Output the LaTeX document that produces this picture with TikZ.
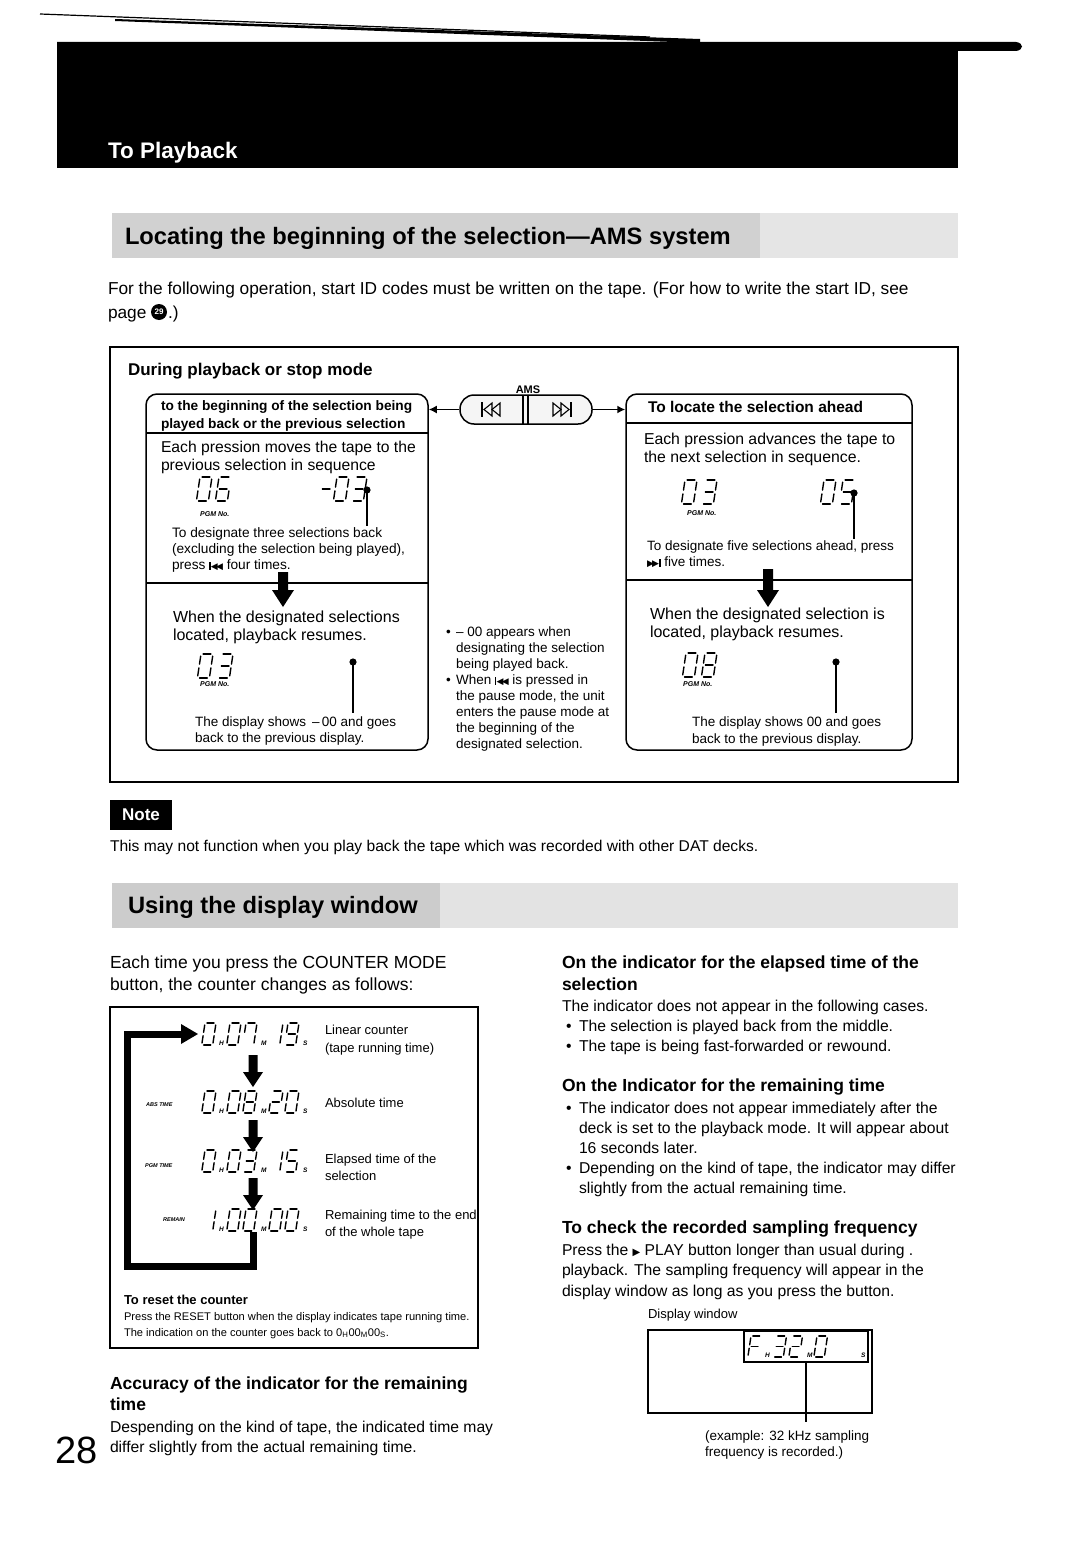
\documentclass[tikz,border=0pt]{standalone}
\usepackage{fontspec}
\setmainfont{Liberation Sans}
\newfontfamily\dejavu{DejaVu Sans}
\usetikzlibrary{arrows.meta}
\newcommand\fs[1]{\fontsize{#1}{#1}\selectfont}
\tikzset{
  txt/.style={anchor=base west, inner sep=0pt, outer sep=0pt},
  seg/.style={line width=1.4pt, line cap=round},
  unit/.style={anchor=base west, inner sep=0pt, font=\fs{6.5}\bfseries\itshape},
  pgm/.style={anchor=base west, inner sep=0pt, font=\fs{7}\bfseries\itshape},
  ptr/.style={line width=1.4pt},
  boxline/.style={line width=1.5pt},
  conn/.style={line width=1.5pt, -{Latex[length=8pt,width=8pt]}},
}
\newcommand\sgA{\draw[seg] (1.8,0)--(8.2,0);}
\newcommand\sgB{\draw[seg] (10,1.8)--(10,8.4);}
\newcommand\sgC{\draw[seg] (10,11.6)--(10,18.2);}
\newcommand\sgD{\draw[seg] (1.8,20)--(8.2,20);}
\newcommand\sgE{\draw[seg] (0,11.6)--(0,18.2);}
\newcommand\sgF{\draw[seg] (0,1.8)--(0,8.4);}
\newcommand\sgG{\draw[seg] (1.8,10)--(8.2,10);}
\newcommand\ssd[4]{\begin{scope}[shift={(#1,#2)},scale=#3,xslant=0.15]
\ifcase#4\relax \sgA\sgB\sgC\sgD\sgE\sgF
\or \sgB\sgC
\or \sgA\sgB\sgG\sgE\sgD
\or \sgA\sgB\sgG\sgC\sgD
\or \sgF\sgG\sgB\sgC
\or \sgA\sgF\sgG\sgC\sgD
\or \sgA\sgF\sgG\sgE\sgC\sgD
\or \sgA\sgB\sgC\sgF
\or \sgA\sgB\sgC\sgD\sgE\sgF\sgG
\or \sgA\sgB\sgC\sgD\sgF\sgG
\or \sgA\sgF\sgG\sgE
\or \sgG
\fi
\end{scope}}
% time display: name, x, ytop, h, m1, m2, s1, s2
\newcommand\timedisp[8]{%
  \ssd{#2}{#3}{1.1}{#4}
  \node[unit] (#1h) at ([shift={(14,22)}]#2,#3) {H};
  \ssd{#2+25}{#3}{1.1}{#5}\ssd{#2+41}{#3}{1.1}{#6}
  \node[unit] (#1m) at ([shift={(56,22)}]#2,#3) {M};
  \ssd{#2+67}{#3}{1.1}{#7}\ssd{#2+83}{#3}{1.1}{#8}
  \node[unit] (#1s) at ([shift={(98,22)}]#2,#3) {S};
}
\newcommand\dnarrow[6]{\fill (#1-#5,#2) -- (#1+#5,#2) -- (#1+#5,#3) -- (#1+#6,#3) -- (#1,#4) -- (#1-#6,#3) -- (#1-#5,#3) -- cycle;}
\newcommand\prevsym{\rule[-0.5pt]{1.4pt}{8pt}\kern0.2pt{\dejavu\fontsize{9}{9}\selectfont ◀\kern-1.8pt◀}}
\newcommand\nextsym{{\dejavu\fontsize{9}{9}\selectfont ▶\kern-1.8pt▶}\kern0.2pt\rule[-0.5pt]{1.4pt}{8pt}}
\newcommand\playsym{{\dejavu\fontsize{10}{10}\selectfont ▶}}

\begin{document}
\begin{tikzpicture}[x=1pt,y=-1pt]
\useasboundingbox (0,0) rectangle (1083,1560);
\fill[white] (0,0) rectangle (1083,1560);

% ---------- header ----------
\draw[line width=1.2pt] (40,14) -- (650,37);
\fill (115,19) -- (700,39) -- (700,43) -- (115,21) -- cycle;
\fill (57,42) -- (1016,42) .. controls (1024,43) and (1024,50) .. (1016,51) -- (57,51) -- cycle;
\fill (57,45) rectangle (958,168);
\node[txt, text=white, font=\fs{22.5}\bfseries] (title) at (108,158) {To Playback};

% ---------- banner 1 ----------
\fill[gray!36] (112,213) rectangle (760,258);
\fill[gray!20] (760,213) rectangle (958,258);
\node[txt, font=\fs{23.7}\bfseries] (ban1) at (125,244) {Locating the beginning of the selection---AMS system};

\node[txt, font=\fs{17.3}] (p1) at (108,294) {For the following operation, start ID codes must be written on the tape. (For how to write the start ID, see};
\node[txt, font=\fs{17.3}] (p2) at (108,318) {page};
\node[circle, fill=black, text=white, inner sep=0pt, minimum size=16pt, font=\fs{8}\bfseries] (c29) at (159,312) {29};
\node[txt, font=\fs{17.3}] (p3) at (168,318) {.)};

% ---------- AMS frame ----------
\node[draw, boxline, minimum width=848pt, minimum height=435pt, inner sep=0pt] (outer) at (534,564.5) {};
\node[txt, font=\fs{17}\bfseries] (during) at (128,375) {During playback or stop mode};
\node[anchor=base, inner sep=0pt, font=\fs{11}\bfseries] (amslbl) at (528,393) {AMS};

\node[draw, boxline, rounded corners=14pt, fill=gray!8, minimum width=132pt, minimum height=29pt, inner sep=0pt] (ams) at (526,409.5) {};
\draw[line width=1.3pt] (523,395) -- (523,424);
\draw[line width=1.3pt] (528,395) -- (528,424);
% prev / next symbols on the buttons
\draw[line width=1.2pt] (482,402) -- (482,417);
\draw[line width=1.1pt] (484,409.5) -- (492,403) -- (492,416) -- cycle;
\draw[line width=1.1pt] (492,409.5) -- (500,403) -- (500,416) -- cycle;
\draw[line width=1.1pt] (553,403) -- (561,409.5) -- (553,416) -- cycle;
\draw[line width=1.1pt] (561,403) -- (569,409.5) -- (561,416) -- cycle;
\draw[line width=1.2pt] (571,402) -- (571,417);

% left box
\node[draw, boxline, rounded corners=11pt, minimum width=282pt, minimum height=356pt, inner sep=0pt] (lbox) at (287,572) {};
\draw[line width=1.3pt] (146,433) -- (428,433);
\draw[line width=1.3pt] (146,583) -- (428,583);
\draw[conn] (ams.west) -- (ams.west -| lbox.east);

\node[txt, font=\fs{13.7}\bfseries] (lh1) at (161,410) {to the beginning of the selection being};
\node[txt, font=\fs{13.7}\bfseries] (lh2) at (161,428) {played back or the previous selection};
\node[txt, font=\fs{15.7}] (lb1) at (161,452) {Each pression moves the tape to the};
\node[txt, font=\fs{15.7}] (lb2) at (161,470) {previous selection in sequence};
\ssd{200}{477}{1.2}{0}\ssd{219}{477}{1.2}{6}
\node[pgm] (lpgm1) at (200,516) {PGM No.};
\ssd{322}{477}{1.2}{11}\ssd{337}{477}{1.2}{0}\ssd{355}{477}{1.2}{3}
\fill (367,490) circle (3.6pt);
\draw[ptr] (367,490) -- (367,526);
\node[txt, font=\fs{13.7}] (ls1) at (172,537) {To designate three selections back};
\node[txt, font=\fs{13.7}] (ls2) at (172,553) {(excluding the selection being played),};
\node[txt, font=\fs{13.7}] (ls3) at (172,569) {press \prevsym\ four times.};
\dnarrow{283}{572}{590}{607}{5}{11}
\node[txt, font=\fs{16}] (ll1) at (173,622) {When the designated selections};
\node[txt, font=\fs{16}] (ll2) at (173,640) {located, playback resumes.};
\ssd{201}{654}{1.2}{0}\ssd{221}{654}{1.2}{3}
\node[pgm] (lpgm2) at (200,686) {PGM No.};
\fill (353,662) circle (3.6pt);
\draw[ptr] (353,662) -- (353,713);
\node[txt, font=\fs{13.5}] (ld1) at (195,726) {The display shows \,--\,00 and goes};
\node[txt, font=\fs{13.5}] (ld2) at (195,742) {back to the previous display.};

% middle notes
\node[txt, font=\fs{13.5}] (mb1) at (446,636) {•};
\node[txt, font=\fs{13.5}] (m1) at (456,636) {-- 00 appears when};
\node[txt, font=\fs{13.5}] (m2) at (456,652) {designating the selection};
\node[txt, font=\fs{13.5}] (m3) at (456,668) {being played back.};
\node[txt, font=\fs{13.5}] (mb2) at (446,684) {•};
\node[txt, font=\fs{13.5}] (m4) at (456,684) {When \prevsym\ is pressed in};
\node[txt, font=\fs{13.5}] (m5) at (456,700) {the pause mode, the unit};
\node[txt, font=\fs{13.5}] (m6) at (456,716) {enters the pause mode at};
\node[txt, font=\fs{13.5}] (m7) at (456,732) {the beginning of the};
\node[txt, font=\fs{13.5}] (m8) at (456,748) {designated selection.};

% right box
\node[draw, boxline, rounded corners=11pt, minimum width=286pt, minimum height=356pt, inner sep=0pt] (rbox) at (769,572) {};
\draw[line width=1.3pt] (626,423) -- (912,423);
\draw[line width=1.3pt] (626,580) -- (912,580);
\draw[conn] (ams.east) -- (ams.east -| rbox.west);
\node[txt, font=\fs{15.5}\bfseries] (rh) at (648,412) {To locate the selection ahead};
\node[txt, font=\fs{15.8}] (rb1) at (644,444) {Each pression advances the tape to};
\node[txt, font=\fs{15.8}] (rb2) at (644,462) {the next selection in sequence.};
\ssd{685}{480}{1.2}{0}\ssd{705}{480}{1.2}{3}
\node[pgm] (rpgm1) at (687,515) {PGM No.};
\ssd{824}{480}{1.2}{0}\ssd{843}{480}{1.2}{5}
\fill (854,493) circle (3.6pt);
\draw[ptr] (854,493) -- (854,539);
\node[txt, font=\fs{13.5}] (rs1) at (647,550) {To designate five selections ahead, press};
\node[txt, font=\fs{13.5}] (rs2) at (647,566) {\nextsym\ five times.};
\dnarrow{768}{569}{590}{607}{5}{11}
\node[txt, font=\fs{16}] (rl1) at (650,619) {When the designated selection is};
\node[txt, font=\fs{16}] (rl2) at (650,637) {located, playback resumes.};
\ssd{686}{653}{1.2}{0}\ssd{705}{653}{1.2}{8}
\node[pgm] (rpgm2) at (683,686) {PGM No.};
\fill (836,662) circle (3.6pt);
\draw[ptr] (836,662) -- (836,713);
\node[txt, font=\fs{13.5}] (rd1) at (692,726) {The display shows 00 and goes};
\node[txt, font=\fs{13.5}] (rd2) at (692,743) {back to the previous display.};

% ---------- note ----------
\node[fill=black, text=white, font=\fs{17}\bfseries, minimum width=62pt, minimum height=30pt, inner sep=0pt] (note) at (141,815) {Note};
\node[txt, font=\fs{15.6}] (notetxt) at (110,851) {This may not function when you play back the tape which was recorded with other DAT decks.};

% ---------- banner 2 ----------
\fill[gray!40] (112,883) rectangle (440,928);
\fill[gray!22] (440,883) rectangle (958,928);
\node[txt, font=\fs{23.7}\bfseries] (ban2) at (128,913) {Using the display window};

% ---------- left column ----------
\node[txt, font=\fs{17.5}] (c1) at (110,968) {Each time you press the COUNTER MODE};
\node[txt, font=\fs{17.5}] (c2) at (110,990) {button, the counter changes as follows:};

\node[draw, line width=1.2pt, minimum width=368pt, minimum height=341pt, inner sep=0pt] (cbox) at (294,1177.5) {};
\draw[line width=7pt] (253,1232) -- (253,1266) -- (127,1266) -- (127,1034) -- (183,1034);
\fill (181,1024) -- (198,1034) -- (181,1044) -- cycle;

\timedisp{ta}{205}{1023}{0}{0}{7}{1}{9}
\node[txt, font=\fs{13}] (la1) at (325,1034) {Linear counter};
\node[txt, font=\fs{13}] (la2) at (325,1052) {(tape running time)};
\dnarrow{253}{1055}{1072}{1087}{4.5}{10}
\node[pgm, font=\fs{5.5}\bfseries\itshape] (abst) at (146,1106) {ABS TIME};
\timedisp{tb}{205}{1091}{0}{0}{8}{2}{0}
\node[txt, font=\fs{13}] (lb) at (325,1107) {Absolute time};
\dnarrow{253}{1120}{1137}{1152}{4.5}{10}
\node[pgm, font=\fs{5.5}\bfseries\itshape] (pgmt) at (145,1167) {PGM TIME};
\timedisp{tc}{205}{1150}{0}{0}{3}{1}{5}
\node[txt, font=\fs{13}] (lc1) at (325,1163) {Elapsed time of the};
\node[txt, font=\fs{13}] (lc2) at (325,1180) {selection};
\dnarrow{253}{1178}{1195}{1210}{4.5}{10}
\node[pgm, font=\fs{5.5}\bfseries\itshape] (remt) at (163,1221) {REMAIN};
\timedisp{td}{205}{1209}{1}{0}{0}{0}{0}
\node[txt, font=\fs{13}] (ld1b) at (325,1219) {Remaining time to the end};
\node[txt, font=\fs{13}] (ld2b) at (325,1236) {of the whole tape};

\node[txt, font=\fs{13}\bfseries] (reset) at (124,1304) {To reset the counter};
\node[txt, font=\fs{11.1}] (reset1) at (124,1320) {Press the RESET button when the display indicates tape running time.};
\node[txt, font=\fs{11.1}] (reset2) at (124,1336) {The indication on the counter goes back to 0\textsubscript{H}00\textsubscript{M}00\textsubscript{S}.};

\node[txt, font=\fs{17.5}\bfseries] (acc1) at (110,1389) {Accuracy of the indicator for the remaining};
\node[txt, font=\fs{17.5}\bfseries] (acc2) at (110,1410) {time};
\node[txt, font=\fs{15.7}] (acc3) at (110,1432) {Despending on the kind of tape, the indicated time may};
\node[txt, font=\fs{15.7}] (acc4) at (110,1452) {differ slightly from the actual remaining time.};
\node[txt, font=\fs{38}] (pagenum) at (55,1463) {28};

% ---------- right column ----------
\node[txt, font=\fs{17.5}\bfseries] (e1) at (562,968) {On the indicator for the elapsed time of the};
\node[txt, font=\fs{17.5}\bfseries] (e2) at (562,990) {selection};
\node[txt, font=\fs{15.7}] (e3) at (562,1011) {The indicator does not appear in the following cases.};
\node[txt, font=\fs{15.7}] (eb1) at (566,1031) {•};
\node[txt, font=\fs{15.7}] (e4) at (579,1031) {The selection is played back from the middle.};
\node[txt, font=\fs{15.7}] (eb2) at (566,1051) {•};
\node[txt, font=\fs{15.7}] (e5) at (579,1051) {The tape is being fast-forwarded or rewound.};

\node[txt, font=\fs{17.5}\bfseries] (r1) at (562,1091) {On the Indicator for the remaining time};
\node[txt, font=\fs{15.7}] (rb1x) at (566,1113) {•};
\node[txt, font=\fs{15.7}] (r2) at (579,1113) {The indicator does not appear immediately after the};
\node[txt, font=\fs{15.7}] (r3) at (579,1133) {deck is set to the playback mode. It will appear about};
\node[txt, font=\fs{15.7}] (r4) at (579,1153) {16 seconds later.};
\node[txt, font=\fs{15.7}] (rb2x) at (566,1173) {•};
\node[txt, font=\fs{15.7}] (r5) at (579,1173) {Depending on the kind of tape, the indicator may differ};
\node[txt, font=\fs{15.7}] (r6) at (579,1193) {slightly from the actual remaining time.};

\node[txt, font=\fs{17.5}\bfseries] (s1) at (562,1233) {To check the recorded sampling frequency};
\node[txt, font=\fs{15.7}] (s2) at (562,1255) {Press the \playsym\ PLAY button longer than usual during .};
\node[txt, font=\fs{15.7}] (s3) at (562,1275) {playback. The sampling frequency will appear in the};
\node[txt, font=\fs{15.7}] (s4) at (562,1296) {display window as long as you press the button.};
\node[txt, font=\fs{13}] (dw) at (648,1318) {Display window};

\node[draw, line width=1.3pt, minimum width=224pt, minimum height=83pt, inner sep=0pt] (win) at (760,1371.5) {};
\node[draw, line width=1.6pt, minimum width=124pt, minimum height=31pt, inner sep=0pt] (lcd) at (806,1346.5) {};
\ssd{751}{1336}{1.05}{10}
\node[unit] (fh) at (765,1357) {H};
\ssd{776}{1336}{1.05}{3}\ssd{792}{1336}{1.05}{2}
\node[unit] (fm) at (807,1357) {M};
\ssd{817}{1336}{1.05}{0}
\node[unit] (fs) at (861,1357) {S};
\coordinate (lcdptr) at (806,1422);
\draw[ptr] (lcd.south) -- (lcdptr);
\node[txt, font=\fs{13.5}] (ex1) at (705,1440) {(example: 32 kHz sampling};
\node[txt, font=\fs{13.5}] (ex2) at (705,1456) {frequency is recorded.)};
\end{tikzpicture}
\end{document}
